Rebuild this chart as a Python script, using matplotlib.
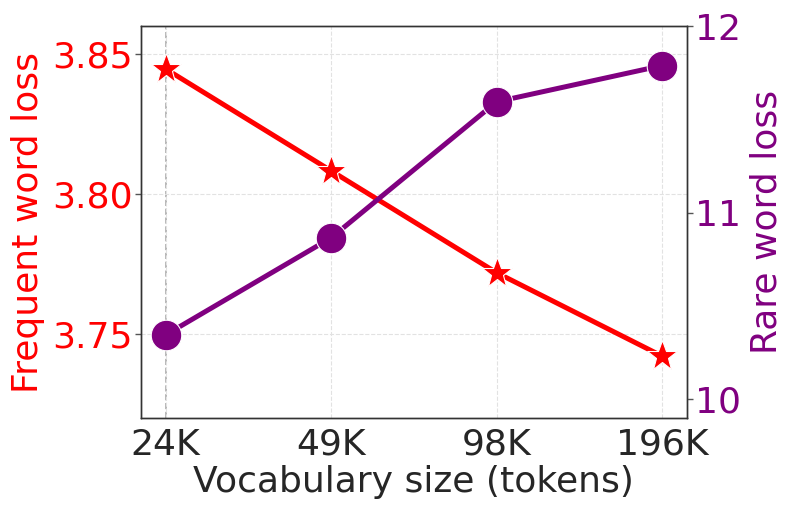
import matplotlib
matplotlib.use("Agg")
import matplotlib.pyplot as plt

# Data
vocab_labels = ['24K', '49K', '98K', '196K']
frequent_loss = [3.8447, 3.8083, 3.7719, 3.7421]
rare_loss = [10.345, 10.865, 11.594, 11.788]

RED = '#ff0000'
PURPLE = '#800080'
TEXT = '#262626'
FS = 26

plt.rcParams['font.family'] = 'DejaVu Sans'

fig = plt.figure(figsize=(7.93, 5.15), dpi=100)
ax1 = fig.add_axes([0.1774, 0.1883, 0.6889, 0.7612])
ax2 = ax1.twinx()

x = list(range(len(vocab_labels)))

ax1.grid(True, linestyle='--', color='#e2e2e2', linewidth=0.8)
ax1.axvline(0, color='#aaaaaa', linestyle='--', linewidth=1.2, zorder=1)

ax1.plot(x, frequent_loss, color=RED, linewidth=3.6, marker='*', markersize=23,
         markeredgecolor='white', markeredgewidth=0.8, zorder=3)
ax2.plot(x, rare_loss, color=PURPLE, linewidth=3.6, marker='o', markersize=22,
         markeredgecolor='white', markeredgewidth=0.8, zorder=3)

ax1.set_xlim(-0.15, 3.15)
ax1.set_ylim(3.72, 3.86)
ax2.set_ylim(9.9, 12.0)

ax1.set_xticks(x)
ax1.set_xticklabels(vocab_labels)
ax1.set_yticks([3.75, 3.80, 3.85])
ax1.set_yticklabels(['3.75', '3.80', '3.85'])
ax2.set_yticks([10, 11, 12])

ax1.tick_params(axis='x', labelsize=FS, colors=TEXT, length=0, pad=7)
ax1.tick_params(axis='y', labelsize=FS, labelcolor=RED, color='#555555', length=4, width=1, pad=2)
ax2.tick_params(axis='y', labelsize=FS, labelcolor=PURPLE, color='#555555', length=4, width=1, pad=2)

ax1.set_xlabel('Vocabulary size (tokens)', fontsize=FS, color=TEXT, labelpad=2)
ax1.set_ylabel('Frequent word loss', fontsize=FS, color=RED, labelpad=5)
ax2.set_ylabel('Rare word loss', fontsize=FS, color=PURPLE, labelpad=6)

for ax in (ax1, ax2):
    for sp in ax.spines.values():
        sp.set_color('#333333')
        sp.set_linewidth(1.0)

fig.savefig('out.png', dpi=100)
